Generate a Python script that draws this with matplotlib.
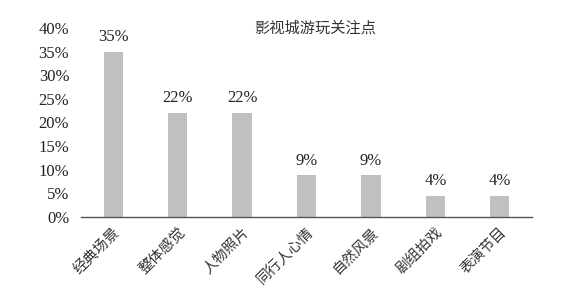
import matplotlib
matplotlib.use("Agg")
import matplotlib.pyplot as plt

categories = ["经典场景", "整体感觉", "人物照片", "同行人心情", "自然风景", "剧组拍戏", "表演节目"]
values = [35, 22, 22, 8.8, 8.8, 4.5, 4.5]
value_labels = ["35%", "22%", "22%", "9%", "9%", "4%", "4%"]
yticks = [0, 5, 10, 15, 20, 25, 30, 35, 40]
ytick_labels = ["0%", "5%", "10%", "15%", "20%", "25%", "30%", "35%", "40%"]
title = "影视城游玩关注点"

serif = ["Liberation Serif", "Noto Sans CJK SC"]
cjk = ["Noto Sans CJK SC", "DejaVu Sans"]

fig = plt.figure(figsize=(5.64, 3.03), dpi=100)
ax = fig.add_axes([81/564, 1-217/303, 451/564, (217-28)/303])
x = list(range(len(categories)))
ax.bar(x, values, width=0.30, color="#c0c0c0")
ax.set_xlim(-0.5, len(categories)-0.5)
ax.set_ylim(0, 40)
ax.set_yticks(yticks)
ax.set_yticklabels(ytick_labels, family=serif, fontsize=12, color="#222222")
ax.set_xticks(x)
ax.set_xticklabels(categories, family=cjk, fontsize=10.5, rotation=45,
                   ha="right", va="top", rotation_mode="anchor", color="#333333")
ax.tick_params(axis="both", length=0)
ax.tick_params(axis="y", pad=8.5)
ax.tick_params(axis="x", pad=6)
for s in ["top", "right", "left"]:
    ax.spines[s].set_visible(False)
ax.spines["bottom"].set_color("#5a5252")
ax.spines["bottom"].set_linewidth(1.0)
for xi, v, lab in zip(x, values, value_labels):
    ax.text(xi, v + 1.4, lab, ha="center", va="bottom", family=serif,
            fontsize=12, color="#222222")
fig.text(315/564, 1-28/303, title, ha="center", va="center", family=cjk,
         fontsize=11, color="#333333")
fig.savefig("out.png", dpi=100, facecolor="white")
